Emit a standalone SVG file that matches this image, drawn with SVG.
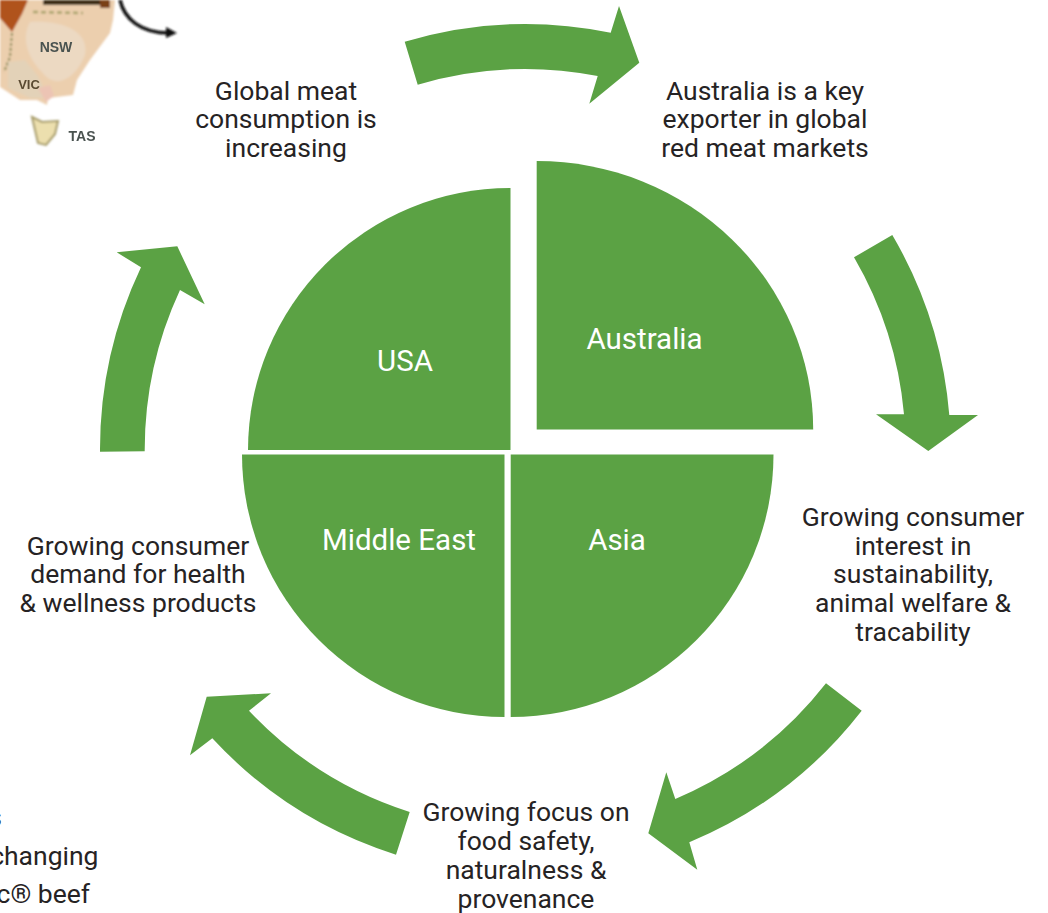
<svg xmlns="http://www.w3.org/2000/svg" width="1048" height="913" viewBox="0 0 1048 913">
<defs>
<style>
.g{fill:#5ba244}
.t{font-family:Roboto,"Liberation Sans",sans-serif;font-size:26.5px;fill:#262324;text-anchor:middle}
.w{font-family:Roboto,"Liberation Sans",sans-serif;font-size:29.5px;fill:#fff;text-anchor:middle}
.m{font-family:"Liberation Sans",sans-serif;font-weight:700;fill:#4a5250;text-anchor:middle}
</style>
<filter id="b" x="-10%" y="-10%" width="120%" height="120%"><feGaussianBlur stdDeviation="1.2"/></filter>
<filter id="s" x="-10%" y="-20%" width="120%" height="140%"><feGaussianBlur stdDeviation="0.5"/></filter>
</defs>
<rect width="1048" height="913" fill="#fff"/>
<g id="map">
<g filter="url(#b)">
<path d="M0 0H115L113 20L110 33L90 60L77 80L73 95L48 98L47 105L37 100L20 100L0 87Z" fill="#eccfae"/>
<path d="M30 22C60 20 90 30 85 55C75 80 55 90 42 72C30 60 20 40 30 22Z" fill="#ecd9c2"/>
<path d="M0 0H28L22 14L12 32L0 18Z" fill="#b0521d"/>
<path d="M43 0H100V5H43Z" fill="#3d2f18"/>
<path d="M100 0H110V8H100Z" fill="#7a3f18"/>
<path d="M12 33L10 57L4 72" fill="none" stroke="#8a8a55" stroke-width="2" stroke-dasharray="3 2"/>
<path d="M33 12L83 13" fill="none" stroke="#a9a36a" stroke-width="2.5" stroke-dasharray="5 3"/>
<path d="M8 62L25 60L38 76L48 98L30 98L8 88Z" fill="#e3d2b8"/>
<path d="M38 88L50 85L54 96L46 102Z" fill="#ecc4b4"/>
<path d="M32 117L42 122L58 121L55 134L46 145L38 143L35 130Z" fill="#ecdfae" stroke="#a79c6a" stroke-width="2"/>
<path d="M120 0C124 18 140 34 172 33" fill="none" stroke="#111" stroke-width="3.5"/>
<path d="M166 27L177 33L166 38Z" fill="#111"/>
</g>
<g filter="url(#s)">
<text class="m" x="56" y="52" font-size="14">NSW</text>
<text class="m" x="29" y="89" font-size="13" style="fill:#5a4a30">VIC</text>
<text class="m" x="82" y="141" font-size="14">TAS</text>
</g>
</g>
<g id="connectors">
<path class="g" d="M404.7 41.7A425 425 0 0 1 610.7 32.7L619 6L639.3 62.7L589.3 103.7L597.7 76A380 380 0 0 0 417.7 84.7Z"/>
<path class="g" d="M892.3 235A425 425 0 0 1 949.3 415H978L928.3 451L876 414.3H904A380 380 0 0 0 854 257.3Z"/>
<path class="g" d="M861.7 710.7A425 425 0 0 1 689.3 842.3L697.3 869.7L648.3 833.3L666.3 772.3L675.3 799A380 380 0 0 0 826 683.3Z"/>
<path class="g" d="M396 854.7A425 425 0 0 1 212.3 738.3L190 755.3L206.7 696.7L271 693.3L249 710.7A380 380 0 0 0 409.7 812Z"/>
<path class="g" d="M100 451.7A425 425 0 0 1 141 267.3L116.7 252.3L177.3 246.3L204.7 304.3L180 290A380 380 0 0 0 144.7 451.3Z"/>
</g>
<g id="usa"><path class="g" d="M510.5 450V188A262.5 262 0 0 0 248 450Z"/><text class="w" x="405" y="371">USA</text></g>
<g id="australia"><path class="g" d="M536.7 429.5V161A276.5 268.5 0 0 1 813.2 429.5Z"/><text class="w" x="644.5" y="349">Australia</text></g>
<g id="middle-east"><path class="g" d="M504.5 454.5V717A262.5 262.5 0 0 1 242 454.5Z"/><text class="w" x="399" y="550">Middle East</text></g>
<g id="asia"><path class="g" d="M510.7 454.5H773.5A262.8 262.5 0 0 1 510.7 717Z"/><text class="w" x="617" y="550">Asia</text></g>
<g id="label-global"><text class="t" x="286" y="100">Global meat</text><text class="t" x="286" y="128">consumption is</text><text class="t" x="286" y="157">increasing</text></g>
<g id="label-exporter"><text class="t" x="765" y="100">Australia is a key</text><text class="t" x="765" y="128">exporter in global</text><text class="t" x="765" y="157">red meat markets</text></g>
<g id="label-sustainability"><text class="t" x="913" y="526">Growing consumer</text><text class="t" x="913" y="555">interest in</text><text class="t" x="913" y="583">sustainability,</text><text class="t" x="913" y="612">animal welfare &amp;</text><text class="t" x="913" y="641">tracability</text></g>
<g id="label-safety"><text class="t" x="526" y="821">Growing focus on</text><text class="t" x="526" y="850">food safety,</text><text class="t" x="526" y="879">naturalness &amp;</text><text class="t" x="526" y="908">provenance</text></g>
<g id="label-health"><text class="t" x="138" y="555">Growing consumer</text><text class="t" x="138" y="583">demand for health</text><text class="t" x="138" y="612">&amp; wellness products</text></g>
<g id="clipped-text"><text class="t" x="2" y="826" style="text-anchor:end">s</text><text class="t" x="98.5" y="865" style="text-anchor:end">changing</text><text class="t" x="90" y="903" style="text-anchor:end">c® beef</text></g>
</svg>
